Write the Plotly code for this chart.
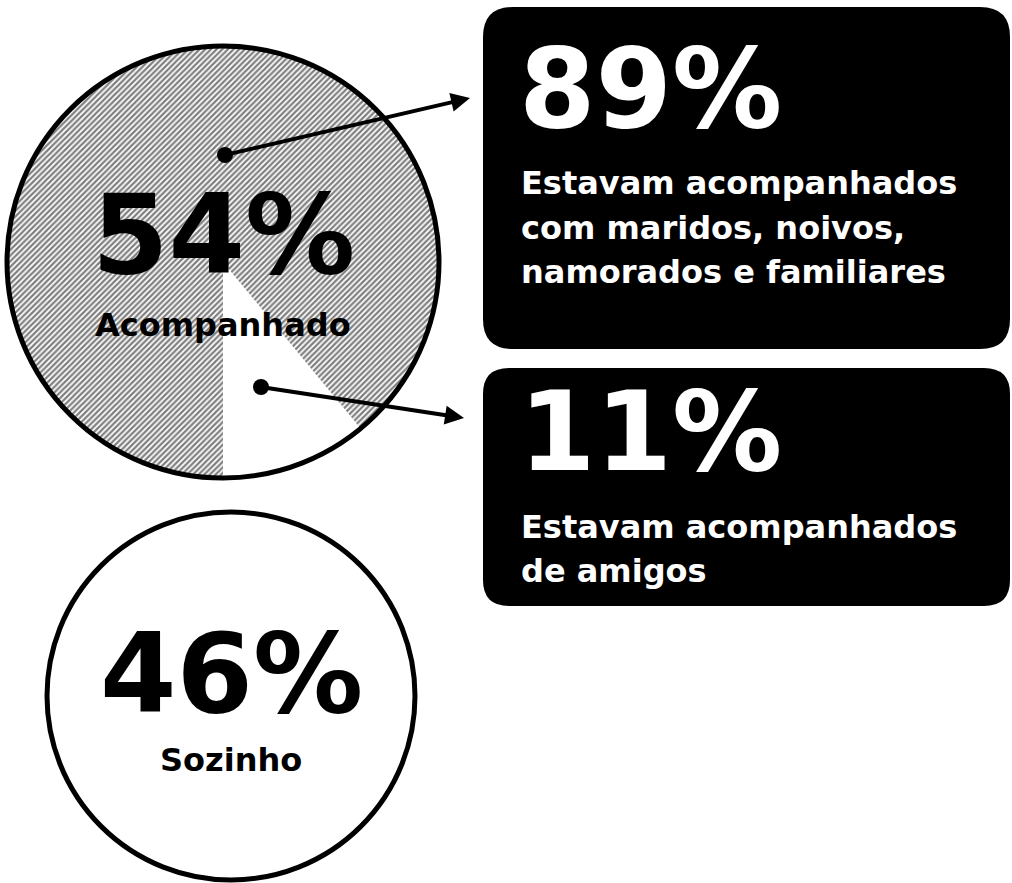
import plotly.graph_objects as go

W, H = 1012, 883

# Share of people who went alone vs. accompanied
group_labels = ["Acompanhado", "Sozinho"]
group_values = [54, 46]

# Breakdown of the accompanied group
company_labels = ["Amigos", "Maridos, noivos, namorados e familiares"]
company_values = [11, 89]

# Captions for the two callout boxes (89% box first, then 11% box)
box_values = [89, 11]
box_lines = [
    ["Estavam acompanhados", "com maridos, noivos,", "namorados e familiares"],
    ["Estavam acompanhados", "de amigos"],
]

FONT = "DejaVu Sans"
PX_PER_PCT = 4  # circle radius in px per percentage point


def px(x):
    return x / W


def py(y):
    return 1 - y / H


def rounded_rect(x0, y0, x1, y1, r):
    pts = [
        f"M{px(x0 + r)},{py(y0)}",
        f"L{px(x1 - r)},{py(y0)}",
        f"Q{px(x1)},{py(y0)} {px(x1)},{py(y0 + r)}",
        f"L{px(x1)},{py(y1 - r)}",
        f"Q{px(x1)},{py(y1)} {px(x1 - r)},{py(y1)}",
        f"L{px(x0 + r)},{py(y1)}",
        f"Q{px(x0)},{py(y1)} {px(x0)},{py(y1 - r)}",
        f"L{px(x0)},{py(y0 + r)}",
        f"Q{px(x0)},{py(y0)} {px(x0 + r)},{py(y0)}",
        "Z",
    ]
    return " ".join(pts)


centers = [(223, 262), (231, 696)]
radii = [PX_PER_PCT * v for v in group_values]

fig = go.Figure()

# Accompanied circle split into friends / partners & family
cx, cy = centers[0]
r = radii[0]
start = 180 - company_values[0] / sum(company_values) * 360
fig.add_trace(go.Pie(
    labels=company_labels,
    values=company_values,
    sort=False,
    direction="clockwise",
    rotation=start,
    textinfo="none",
    hoverinfo="label+percent",
    showlegend=False,
    marker=dict(
        colors=["white", "white"],
        line=dict(width=0),
        pattern=dict(shape=["", "/"], fgcolor="#000000", bgcolor="white",
                     size=4, solidity=0.55, fillmode="overlay"),
    ),
    domain=dict(x=[px(cx - r), px(cx + r)], y=[py(cy + r), py(cy - r)]),
))

shapes = []
annotations = []

# Circle outlines
for (cx, cy), r in zip(centers, radii):
    shapes.append(dict(type="circle", xref="paper", yref="paper",
                       x0=px(cx - r), x1=px(cx + r), y0=py(cy + r), y1=py(cy - r),
                       line=dict(color="black", width=5), layer="above"))

# Callout boxes
boxes = [(483, 7, 1010, 349, 30), (483, 368, 1010, 606, 26)]
for b in boxes:
    shapes.append(dict(type="path", xref="paper", yref="paper", path=rounded_rect(*b),
                       fillcolor="black", line=dict(width=0), layer="above"))

# Connector dots and arrows
dots = [(225, 155), (261, 387)]
tips = [(470, 98), (464, 418)]
for (dx, dy), (tx, ty) in zip(dots, tips):
    shapes.append(dict(type="circle", xref="paper", yref="paper",
                       x0=px(dx - 8), x1=px(dx + 8), y0=py(dy + 8), y1=py(dy - 8),
                       fillcolor="black", line=dict(width=0), layer="above"))
    annotations.append(dict(x=px(tx), y=py(ty), xref="paper", yref="paper",
                            ax=dx - tx, ay=dy - ty, axref="pixel", ayref="pixel",
                            text="", showarrow=True, arrowhead=2, arrowsize=0.95,
                            arrowwidth=4, arrowcolor="black"))

# Circle labels
big_y = [235, 674]
small_y = [325, 760]
for (cx, cy), v, lab, by, sy in zip(centers, group_values, group_labels, big_y, small_y):
    annotations.append(dict(x=px(cx), y=py(by), xref="paper", yref="paper",
                            text=f"{v}%", showarrow=False, xanchor="center", yanchor="middle",
                            font=dict(family=FONT, size=110, color="black", weight="bold")))
    annotations.append(dict(x=px(cx), y=py(sy), xref="paper", yref="paper",
                            text=lab, showarrow=False, xanchor="center", yanchor="middle",
                            font=dict(family=FONT, size=32, color="black", weight="bold")))

# Box texts
title_y = [89, 432]
line_y = [[183, 228, 272], [527, 571]]
for v, ty, lines, ly in zip(box_values, title_y, box_lines, line_y):
    annotations.append(dict(x=px(517), y=py(ty), xref="paper", yref="paper",
                            text=f"{v}%", showarrow=False, xanchor="left", yanchor="middle",
                            font=dict(family=FONT, size=110, color="white", weight="bold")))
    for t, yy in zip(lines, ly):
        annotations.append(dict(x=px(519), y=py(yy), xref="paper", yref="paper",
                                text=t, showarrow=False, xanchor="left", yanchor="middle",
                                font=dict(family=FONT, size=32, color="white", weight="bold")))

fig.update_layout(
    width=W, height=H, autosize=False,
    margin=dict(l=0, r=0, t=0, b=0, pad=0),
    paper_bgcolor="white", plot_bgcolor="white",
    shapes=shapes, annotations=annotations,
)

fig.write_html("out.html")
